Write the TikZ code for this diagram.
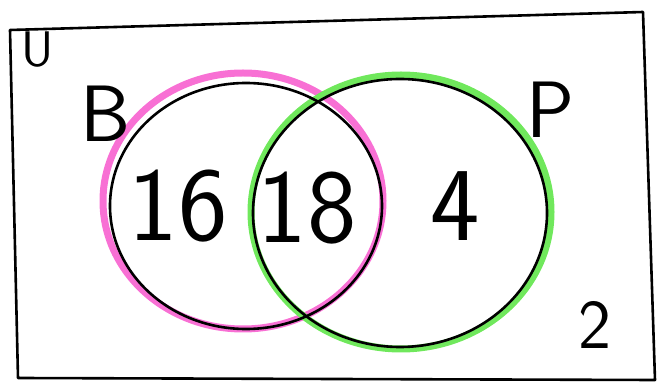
\documentclass[tikz,border=0pt]{standalone}
\usepackage{xcolor}
\usetikzlibrary{positioning}
\definecolor{setpink}{RGB}{248,112,212}
\definecolor{setgreen}{RGB}{112,232,92}

\begin{document}
\begin{tikzpicture}[
  x=1pt, y=-1pt,
  pen/.style={draw=black, line width=2.6pt, line cap=round, line join=round},
  hilite/.style={line width=7pt},
  lbl/.style={font=\sffamily\fontsize{80}{80}\selectfont, inner sep=0pt},
  num/.style={font=\sffamily\fontsize{105}{105}\selectfont, inner sep=0pt},
]
\useasboundingbox (0,0) rectangle (662,387);
% universe frame
\draw[pen] (10,30) -- (643,12) -- (655,380) -- (18,378) -- cycle;
% highlight strokes
\draw[hilite, setpink]  (243,201) ellipse [x radius=140, y radius=128];
\draw[hilite, setgreen] (401,212) ellipse [x radius=150, y radius=137];
% pen outlines
\draw[pen] (246,206) ellipse [x radius=136, y radius=123];
\draw[pen] (400,213) ellipse [x radius=147, y radius=134];
% labels
\node[lbl, font=\sffamily\fontsize{50}{50}\selectfont] (univ) at (38,50)  {U};
\node[lbl]               (setB) at (106,114) {B};
\node[lbl]               (setP) at (550,110) {P};
\node[num]               (onlyB) at (178,206) {16};
\node[num]               (both)  at (307,208) {18};
\node[num]               (onlyP) at (455,206) {4};
\node[lbl, font=\sffamily\fontsize{70}{70}\selectfont] (none) at (595,325) {2};
\end{tikzpicture}
\end{document}
